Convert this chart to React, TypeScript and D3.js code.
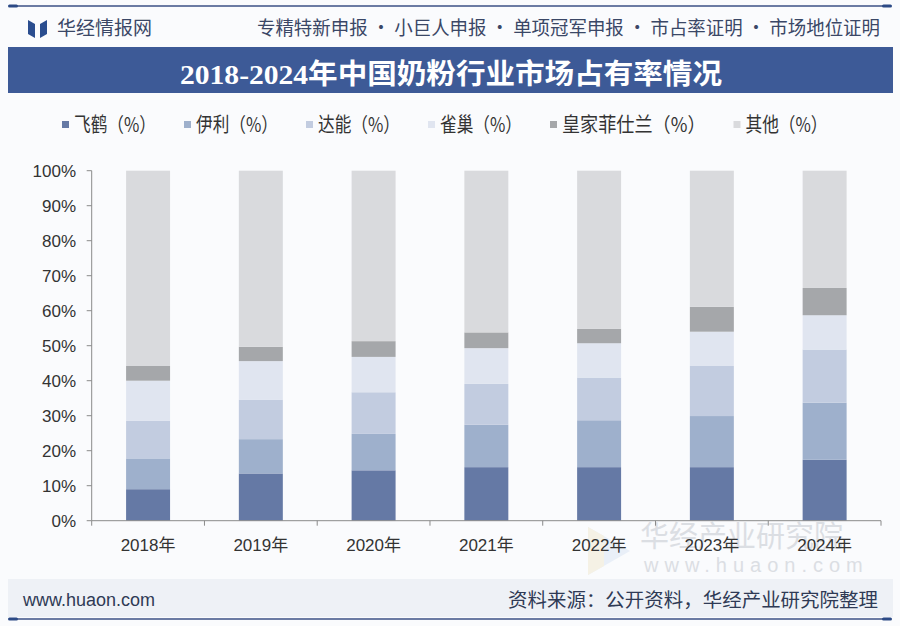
import { useEffect } from "react";
import * as d3 from "d3";

const years = ["2018年", "2019年", "2020年", "2021年", "2022年", "2023年", "2024年"];
const seriesNames = ["飞鹤（%）", "伊利（%）", "达能（%）", "雀巢（%）", "皇家菲仕兰（%）", "其他（%）"];
const feihe = [9.0, 13.5, 14.4, 15.3, 15.3, 15.3, 17.4];
const yili = [8.8, 9.8, 10.4, 12.1, 13.4, 14.6, 16.3];
const danone = [10.8, 11.3, 11.9, 11.7, 12.2, 14.3, 15.2];
const nestle = [11.4, 11.0, 10.1, 10.2, 9.8, 9.8, 9.8];
const friesland = [4.2, 4.1, 4.5, 4.5, 4.1, 7.1, 7.8];
const others = [55.8, 50.3, 48.7, 46.2, 45.2, 38.9, 33.5];
const yTicks = [0, 10, 20, 30, 40, 50, 60, 70, 80, 90, 100];

const seriesColors = ["#6579a5", "#9eb0cc", "#c2cce0", "#e0e5f0", "#a5a7aa", "#d9dadd"];

const W = 900;
const H = 626;
const CJK = "'Noto Sans CJK SC', sans-serif";
const LATIN = "'Liberation Sans', 'Noto Sans CJK SC', sans-serif";

export default function App() {
	useEffect(() => {
		document.body.style.margin = "0";
	}, []);

	const seriesValues = [feihe, yili, danone, nestle, friesland, others];
	const table = years.map((year, i) => {
		const row: Record<string, number | string> = { year };
		seriesNames.forEach((name, s) => {
			row[name] = seriesValues[s][i];
		});
		return row;
	});
	const stacked = d3.stack<Record<string, number | string>>().keys(seriesNames)(table as any);

	const x = d3.scaleBand().domain(years).range([91.7, 881]).paddingInner(0.61).paddingOuter(0.305);
	const y = d3.scaleLinear().domain([0, 100]).range([520.7, 170.7]);
	const color = d3.scaleOrdinal<string>().domain(seriesNames).range(seriesColors);

	const step = x.step();
	const x0 = 91.7;
	const boundaries = d3.range(years.length + 1).map((i) => x0 + i * step);

	// legend laid out left to right from estimated text widths
	const legendFont = 20;
	let cursor = 62;
	const legendItems = seriesNames.map((name) => {
		const chars = name.length - 1;
		const w = chars * 20.5;
		const item = { name, x: cursor, w };
		cursor += w + 40;
		return item;
	});

	return (
		<svg width={W} height={H} style={{ display: "block" }}>
			<rect width={W} height={H} fill="#fafbfd" />

			{/* top rule */}
			<line x1={10} x2={890} y1={6} y2={6} stroke="#3b5184" strokeWidth={1.5} />
			<rect x={8} y={4.5} width={10} height={3} rx={1.5} fill="#2c4a86" />
			<rect x={882} y={4.5} width={10} height={3} rx={1.5} fill="#2c4a86" />

			{/* header */}
			<path d="M28,20 L35,24 L35,38 L28,34 Z" fill="#2a4d8f" />
			<path d="M47,20 L40,24 L40,38 L47,34 Z" fill="#2a4d8f" />
			<text x={57} y={35} fontFamily={CJK} fontSize={19} fill="#3a4766">
				华经情报网
			</text>
			<text
				x={880}
				y={35}
				textAnchor="end"
				fontFamily={CJK}
				fontSize={19}
				fill="#3a4766"
				textLength={623}
				lengthAdjust="spacingAndGlyphs"
			>
				专精特新申报 · 小巨人申报 · 单项冠军申报 · 市占率证明 · 市场地位证明
			</text>

			{/* title banner */}
			<rect x={8} y={47} width={885} height={46} fill="#3d5a97" />
			<text
				x={451}
				y={84}
				textAnchor="middle"
				fontFamily="'Liberation Serif', 'Noto Sans CJK SC', serif"
				fontWeight="bold"
				fontSize={28}
				fill="#ffffff"
				textLength={542}
				lengthAdjust="spacingAndGlyphs"
			>
				2018-2024年中国奶粉行业市场占有率情况
			</text>

			{/* legend */}
			{legendItems.map((item) => (
				<g key={item.name} transform={`translate(${item.x},125)`}>
					<rect x={0} y={-4} width={7} height={7} fill={color(item.name)} />
					<text
						x={12}
						y={7}
						fontFamily={CJK}
						fontSize={legendFont}
						fill="#333"
						textLength={item.w}
						lengthAdjust="spacingAndGlyphs"
					>
						{item.name}
					</text>
				</g>
			))}

			{/* watermark */}
			<g opacity={0.6}>
				<path d="M588,527 L630,551 L588,575 Z" fill="#dfe8f6" />
				<path d="M588,527 L604,536 L604,566 L588,575 Z" fill="#f3ecd6" />
				<text x={640} y={547} fontFamily={CJK} fontSize={29} fill="#c8ccd3">
					华经产业研究院
				</text>
				<text x={644} y={572} fontFamily={LATIN} fontSize={20} fill="#c8ccd3" letterSpacing={6}>
					www.huaon.com
				</text>
			</g>

			{/* bars */}
			{stacked.map((layer) => (
				<g key={layer.key} fill={color(layer.key)}>
					{layer.map((d, i) => (
						<rect
							key={years[i]}
							x={x(years[i])}
							y={y(d[1])}
							width={x.bandwidth()}
							height={y(d[0]) - y(d[1])}
						/>
					))}
				</g>
			))}

			{/* y axis */}
			<line x1={x0} x2={x0} y1={y(100)} y2={y(0)} stroke="#8a8a8a" strokeWidth={1} />
			{yTicks.map((t) => (
				<g key={t} transform={`translate(0,${y(t)})`}>
					<line x1={x0 - 5} x2={x0} stroke="#8a8a8a" />
					<text
						x={76}
						y={6}
						textAnchor="end"
						fontFamily={LATIN}
						fontSize={17}
						fill="#333"
					>
						{`${t}%`}
					</text>
				</g>
			))}

			{/* x axis */}
			<line x1={x0} x2={881} y1={y(0)} y2={y(0)} stroke="#8a8a8a" strokeWidth={1} />
			{boundaries.map((bx, i) => (
				<line key={i} x1={bx} x2={bx} y1={y(0)} y2={y(0) + 5} stroke="#8a8a8a" />
			))}
			{years.map((year) => (
				<text
					key={year}
					x={(x(year) ?? 0) + x.bandwidth() / 2}
					y={551}
					textAnchor="middle"
					fontFamily={LATIN}
					fontSize={17}
					fill="#333"
				>
					{year}
				</text>
			))}

			{/* footer */}
			<rect x={8} y={579} width={885} height={38} fill="#eef1f6" />
			<text x={23} y={606} fontFamily={LATIN} fontSize={18} fill="#2f3a55">
				www.huaon.com
			</text>
			<text
				x={878}
				y={607}
				textAnchor="end"
				fontFamily={CJK}
				fontSize={19}
				fill="#2f3a55"
				textLength={370}
				lengthAdjust="spacingAndGlyphs"
			>
				资料来源：公开资料，华经产业研究院整理
			</text>
			<line x1={10} x2={890} y1={619} y2={619} stroke="#3b5184" strokeWidth={1.5} />
			<rect x={8} y={617.5} width={10} height={3} rx={1.5} fill="#2c4a86" />
			<rect x={882} y={617.5} width={10} height={3} rx={1.5} fill="#2c4a86" />
		</svg>
	);
}
